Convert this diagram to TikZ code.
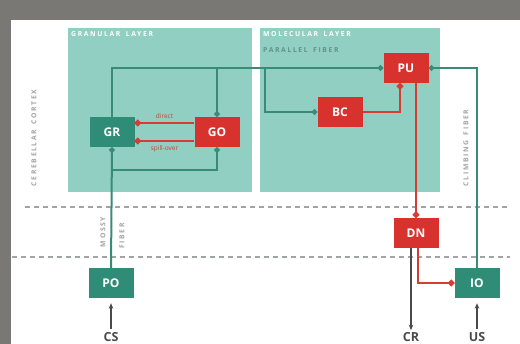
\documentclass[tikz,border=0pt]{standalone}
\usepackage{fontspec}
\setmainfont{Open Sans}
\usetikzlibrary{arrows.meta,calc}

\definecolor{bggray}{HTML}{7A7874}
\definecolor{layerfill}{HTML}{90CFC1}
\definecolor{tealnode}{HTML}{2F8C76}
\definecolor{tealline}{HTML}{3A8A78}
\definecolor{rednode}{HTML}{D8322E}
\definecolor{redline}{HTML}{D83A34}
\definecolor{darkline}{HTML}{4A4A4A}
\definecolor{softtext}{HTML}{A0A4A2}
\definecolor{pftext}{HTML}{5E9487}

\tikzset{
  cellbox/.style={minimum width=45pt, minimum height=30pt, inner sep=0pt,
    text=white, font=\fontsize{12}{12}\selectfont\bfseries},
  tealcell/.style={cellbox, fill=tealnode},
  redcell/.style={cellbox, fill=rednode},
  layer/.style={fill=layerfill, draw=none},
  tinylbl/.style={inner sep=0pt, font=\fontsize{6.8}{7}\selectfont\bfseries\addfontfeature{LetterSpace=24}},
  exc/.style={draw=tealline, line width=2pt, -{Circle[length=5.5pt]}},
  inh/.style={draw=redline, line width=2.8pt, -{Circle[length=6pt]}},
  outarrow/.style={draw=darkline, line width=1.1pt, -{Stealth[length=5.5pt,width=4.5pt]}},
  extlbl/.style={inner sep=0pt, text=darkline, font=\fontsize{12.5}{12.5}\selectfont\bfseries},
  levelline/.style={draw=softtext, line width=1.4pt, dash pattern=on 5pt off 4pt}
}

\begin{document}
\begin{tikzpicture}[x=1pt,y=-1pt]
% frame and page
\fill[bggray] (0,0) rectangle (520,344);
\fill[white] (11,20) rectangle (520,344);
\useasboundingbox (0,0) rectangle (520,344);

% layers of the cortex
\path[layer] (68,28) rectangle (252,192);
\path[layer] (260,28) rectangle (440,192);
\node[tinylbl, text=white, anchor=north west] (glay) at (71,31) {GRANULAR\hspace{2pt} LAYER};
\node[tinylbl, text=white, anchor=north west] (mlay) at (263,31) {MOLECULAR\hspace{2pt} LAYER};
\node[tinylbl, text=pftext, anchor=north west] (pflbl) at (263,47) {PARALLEL\hspace{2pt} FIBER};

% level separators
\draw[levelline] (25,207) -- (510,207);
\draw[levelline] (12,257) -- (510,257);

% side labels
\node[tinylbl, text=softtext, rotate=90] (cortex) at (34,138) {CEREBELLAR\hspace{2pt} CORTEX};
\node[tinylbl, text=softtext, rotate=90] (mossy) at (103,232) {MOSSY};
\node[tinylbl, text=softtext, rotate=90] (mfiber) at (122,236) {FIBER};
\node[tinylbl, text=softtext, rotate=90] (climb) at (466,148) {CLIMBING\hspace{2pt} FIBER};

% cells
\node[tealcell] (GR) at (112,132) {GR};
\node[redcell]  (GO) at (217,132) {GO};
\node[redcell]  (PU) at (406,68) {PU};
\node[redcell]  (BC) at (340,112) {BC};
\node[redcell]  (DN) at (416,233) {DN};
\node[tealcell] (PO) at (111,283) {PO};
\node[tealcell] (IO) at (477,283) {IO};

% external labels
\node[extlbl] (CS) at (111,337) {CS};
\node[extlbl] (CR) at (411,337) {CR};
\node[extlbl] (US) at (477,337) {US};

% helper coordinates
\coordinate (bcT) at (265,68);
\coordinate (mfJ) at (112,170);
\coordinate (yUp) at (0,123);
\coordinate (yDn) at (0,141);

% parallel fibres
\draw[exc] (GR.north) |- (PU.west);
\draw[exc] (GO.north |- PU.west) -- (GO.north);
\draw[exc] (bcT) |- (BC.west);

% mossy fibres
\draw[exc] (PO.north) -- (GR.south);
\draw[exc] (mfJ) -| (GO.south);

% climbing fibre
\draw[exc] (IO.north) |- (PU.east);

% golgi inhibition of granule cells
\draw[inh] (GO.west |- yUp) -- (GR.east |- yUp)
  node[midway, above=3pt, inner sep=0pt, text=redline, font=\fontsize{6.5}{6.5}\selectfont] (direct) {direct};
\draw[inh] (GO.west |- yDn) -- (GR.east |- yDn)
  node[midway, below=3pt, inner sep=0pt, text=redline, font=\fontsize{6.5}{6.5}\selectfont] (spill) {spill-over};

% inhibitory outputs
\draw[inh] (BC.east) -| ([xshift=-6pt]PU.south);
\draw[inh] (PU.south -| DN.north) -- (DN.north);
\draw[inh] ([xshift=2pt]DN.south) |- (IO.west);

% outputs and inputs
\draw[outarrow] (DN.south -| CR.north) -- ([yshift=2pt]CR.north);
\draw[outarrow] ([yshift=3pt]CS.north) -- ([yshift=-5pt]PO.south);
\draw[outarrow] ([yshift=3pt]US.north) -- ([yshift=-5pt]IO.south);
\end{tikzpicture}
\end{document}
